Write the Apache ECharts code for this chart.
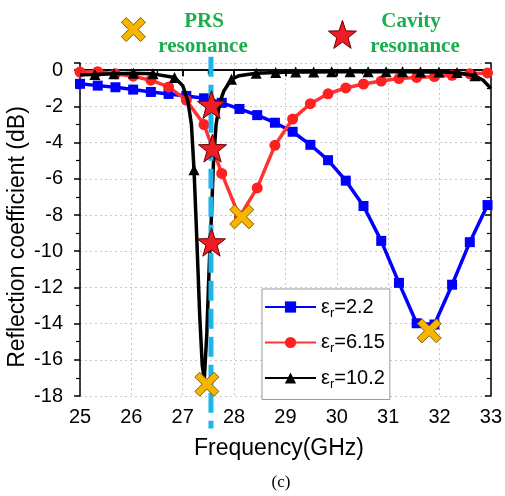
<!DOCTYPE html>
<html><head><meta charset="utf-8">
<script src="https://cdn.jsdelivr.net/npm/echarts@6/dist/echarts.min.js"></script>
<style>html,body{margin:0;padding:0;background:#fff}#c{width:505px;height:496px}</style>
</head><body><div id="c"></div>
<script>
// ---- data ----
const freqGrid = [25.0,25.345,25.69,26.035,26.38,26.725,27.07,27.415,27.76,28.105,28.45,28.795,29.14,29.485,29.83,30.175,30.52,30.865,31.21,31.555,31.9,32.245,32.59,32.935];
const er22 = [-0.75,-0.85,-0.94,-1.07,-1.2,-1.31,-1.42,-1.55,-1.8,-2.14,-2.48,-2.9,-3.4,-4.12,-4.97,-6.1,-7.5,-9.43,-11.75,-13.98,-14.05,-11.85,-9.5,-7.45];
const er615 = [-0.1,-0.08,-0.2,-0.33,-0.55,-0.92,-1.65,-3.0,-5.7,-8.1,-6.5,-4.15,-2.7,-1.85,-1.3,-0.98,-0.76,-0.6,-0.46,-0.4,-0.35,-0.28,-0.2,-0.15];
const er102Freq = [25.0,25.29,25.66,26.04,26.42,26.84,27.0,27.1,27.17,27.22,27.27,27.33,27.38,27.42,27.47,27.52,27.56,27.6,27.65,27.72,27.8,27.95,28.1,28.43,28.81,29.2,29.55,29.9,30.26,30.61,30.96,31.28,31.63,31.99,32.34,32.69,32.85,33.0];
const er102 = [-0.25,-0.23,-0.2,-0.17,-0.2,-0.4,-0.85,-1.7,-3.0,-5.5,-9.0,-13.5,-16.3,-17.1,-14.5,-10.5,-8.0,-5.0,-3.0,-1.8,-1.15,-0.5,-0.3,-0.17,-0.13,-0.1,-0.1,-0.08,-0.08,-0.08,-0.08,-0.08,-0.1,-0.1,-0.12,-0.3,-0.55,-1.0];
const er102Markers = [25.29,25.66,26.04,26.42,26.84,27.22,27.95,28.43,28.81,29.2,29.55,29.9,30.26,30.61,30.96,31.28,31.63,31.99,32.34,32.69];
const seriesNames = ['er=2.2','er=6.15','er=10.2'];
const seriesLabels = ['2.2','6.15','10.2'];
const prsFreq = 27.55;
const prsLineSpan = [0.75, -19.8];
const cavityStars = [[27.56,-1.9],[27.58,-4.3],[27.56,-9.5]];
const prsCrosses = [[27.47,-17.35],[28.15,-8.1],[31.8,-14.4]];
const keyStar = [[30.11,1.98]];
const keyCross = [[26.04,2.25]];
const xTicks = {min:25, max:33, interval:1};
const yTicks = {min:-18, max:0.4, interval:2};

// ---- chart ----
const FONT = '"Liberation Sans", Arial, sans-serif';
const SERIF = '"Liberation Serif", "Times New Roman", serif';
const starPath = 'path://M0,-10 L2.35,-3.24 L9.51,-3.09 L3.8,1.24 L5.88,8.09 L0,4 L-5.88,8.09 L-3.8,1.24 L-9.51,-3.09 L-2.35,-3.24 Z';
const crossPath = 'path://M2,0 L5,3 L8,0 L10,2 L7,5 L10,8 L8,10 L5,7 L2,10 L0,8 L3,5 L0,2 Z';

const chart = echarts.init(document.getElementById('c'), null, {renderer:'canvas'});
const axisLine = {lineStyle:{color:'#000', width:1.5}};
const split = {show:true, lineStyle:{color:'#c8c8c8', type:[2,3], width:1}};
const blackData = er102Freq.map((f,i)=> er102Markers.indexOf(f) >= 0 ? [f, er102[i]] : {value:[f, er102[i]], symbol:'none'});

chart.setOption({
  animation:false,
  backgroundColor:'#fff',
  grid:{left:80, top:63, width:416, height:333, containLabel:false},
  xAxis:[
    {type:'value', position:'bottom', min:xTicks.min, max:xTicks.max, interval:xTicks.interval,
     axisLine, axisTick:{inside:false, length:6, lineStyle:{color:'#000', width:1.5}},
     minorTick:{show:true, splitNumber:2, length:4, lineStyle:{color:'#000', width:1.2}},
     axisLabel:{fontFamily:FONT, fontSize:20, color:'#000', margin:11},
     splitLine:split},
    {type:'value', position:'top', min:xTicks.min, max:xTicks.max, interval:xTicks.interval,
     axisLine, axisTick:{inside:true, length:6, lineStyle:{color:'#000', width:1.5}},
     minorTick:{show:true, splitNumber:2, length:4, lineStyle:{color:'#000', width:1.2}},
     axisLabel:{show:false}, splitLine:{show:false}}
  ],
  yAxis:[
    {type:'value', position:'left', min:yTicks.min, max:yTicks.max, interval:yTicks.interval,
     axisLine, axisTick:{inside:false, length:6, lineStyle:{color:'#000', width:1.5}},
     minorTick:{show:true, splitNumber:2, length:4, lineStyle:{color:'#000', width:1.2}},
     axisLabel:{fontFamily:FONT, fontSize:20, color:'#000', margin:17, showMaxLabel:false},
     splitLine:split},
    {type:'value', position:'right', min:yTicks.min, max:yTicks.max, interval:yTicks.interval,
     axisLine, axisTick:{inside:true, length:6, lineStyle:{color:'#000', width:1.5}},
     minorTick:{show:true, splitNumber:2, length:4, lineStyle:{color:'#000', width:1.2}},
     axisLabel:{show:false}, splitLine:{show:false}}
  ],
  legend:{
    data:seriesNames, left:262, top:289, orient:'vertical',
    itemWidth:51, itemHeight:14, itemGap:13, padding:[8,5,9,2],
    borderColor:'#999', borderWidth:1, backgroundColor:'#fff',
    formatter:(n)=> '{a|ε}{s|r}{a|=' + seriesLabels[seriesNames.indexOf(n)] + '}',
    textStyle:{color:'#000', fontFamily:FONT, fontSize:20,
      rich:{a:{fontFamily:FONT, fontSize:20, color:'#000'}, s:{fontFamily:FONT, fontSize:13, color:'#000', padding:[12,0,0,0]}}}
  },
  series:[
    {name:seriesNames[0], type:'line', data:freqGrid.map((f,i)=>[f, er22[i]]),
     symbol:'rect', symbolSize:10, showAllSymbol:true, color:'#0000ff',
     lineStyle:{width:3.5, color:'#0000ff'}, itemStyle:{color:'#0000ff'}, z:2},
    {name:seriesNames[1], type:'line', data:freqGrid.map((f,i)=>[f, er615[i]]),
     symbol:'circle', symbolSize:11, showAllSymbol:true, color:'#ff3333',
     lineStyle:{width:3.5, color:'#ff3333'}, itemStyle:{color:'#ff2020'}, z:3},
    {name:seriesNames[2], type:'line', data:blackData,
     symbol:'triangle', symbolSize:11, showAllSymbol:true, color:'#000',
     lineStyle:{width:3.5, color:'#000'}, itemStyle:{color:'#000'}, z:4},
    {type:'line', data:prsLineSpan.map(v=>[prsFreq, v]), symbol:'none', clip:false, silent:true,
     lineStyle:{width:5, color:'#1fb5ea', type:[20,8]}, z:5},
    {type:'scatter', data:cavityStars.concat(keyStar), symbol:starPath, symbolSize:28, clip:false,
     itemStyle:{color:'#ee1c25', borderColor:'#600', borderWidth:1, opacity:1}, z:6},
    {type:'scatter', data:prsCrosses.concat(keyCross), symbol:crossPath, symbolSize:24, clip:false,
     itemStyle:{color:'#f7b500', borderColor:'#806000', borderWidth:1, opacity:1}, z:7}
  ],
  graphic:[
    {type:'text', x:204, y:22, style:{text:'PRS', font:'bold 21px '+SERIF, fill:'#1aae4e', textAlign:'center', textVerticalAlign:'middle'}},
    {type:'text', x:203, y:47, style:{text:'resonance', font:'bold 21px '+SERIF, fill:'#1aae4e', textAlign:'center', textVerticalAlign:'middle'}},
    {type:'text', x:411, y:22, style:{text:'Cavity', font:'bold 21px '+SERIF, fill:'#1aae4e', textAlign:'center', textVerticalAlign:'middle'}},
    {type:'text', x:415, y:47, style:{text:'resonance', font:'bold 21px '+SERIF, fill:'#1aae4e', textAlign:'center', textVerticalAlign:'middle'}},
    {type:'text', x:279, y:449, style:{text:'Frequency(GHz)', font:'23px '+FONT, fill:'#000', textAlign:'center', textVerticalAlign:'middle'}},
    {type:'text', x:281, y:483, style:{text:'(c)', font:'17px '+SERIF, fill:'#000', textAlign:'center', textVerticalAlign:'middle'}},
    {type:'text', x:18, y:237, rotation:Math.PI/2, style:{text:'Reflection coefficient (dB)', font:'23px '+FONT, fill:'#000', textAlign:'center', textVerticalAlign:'middle'}}
  ]
});
</script></body></html>
